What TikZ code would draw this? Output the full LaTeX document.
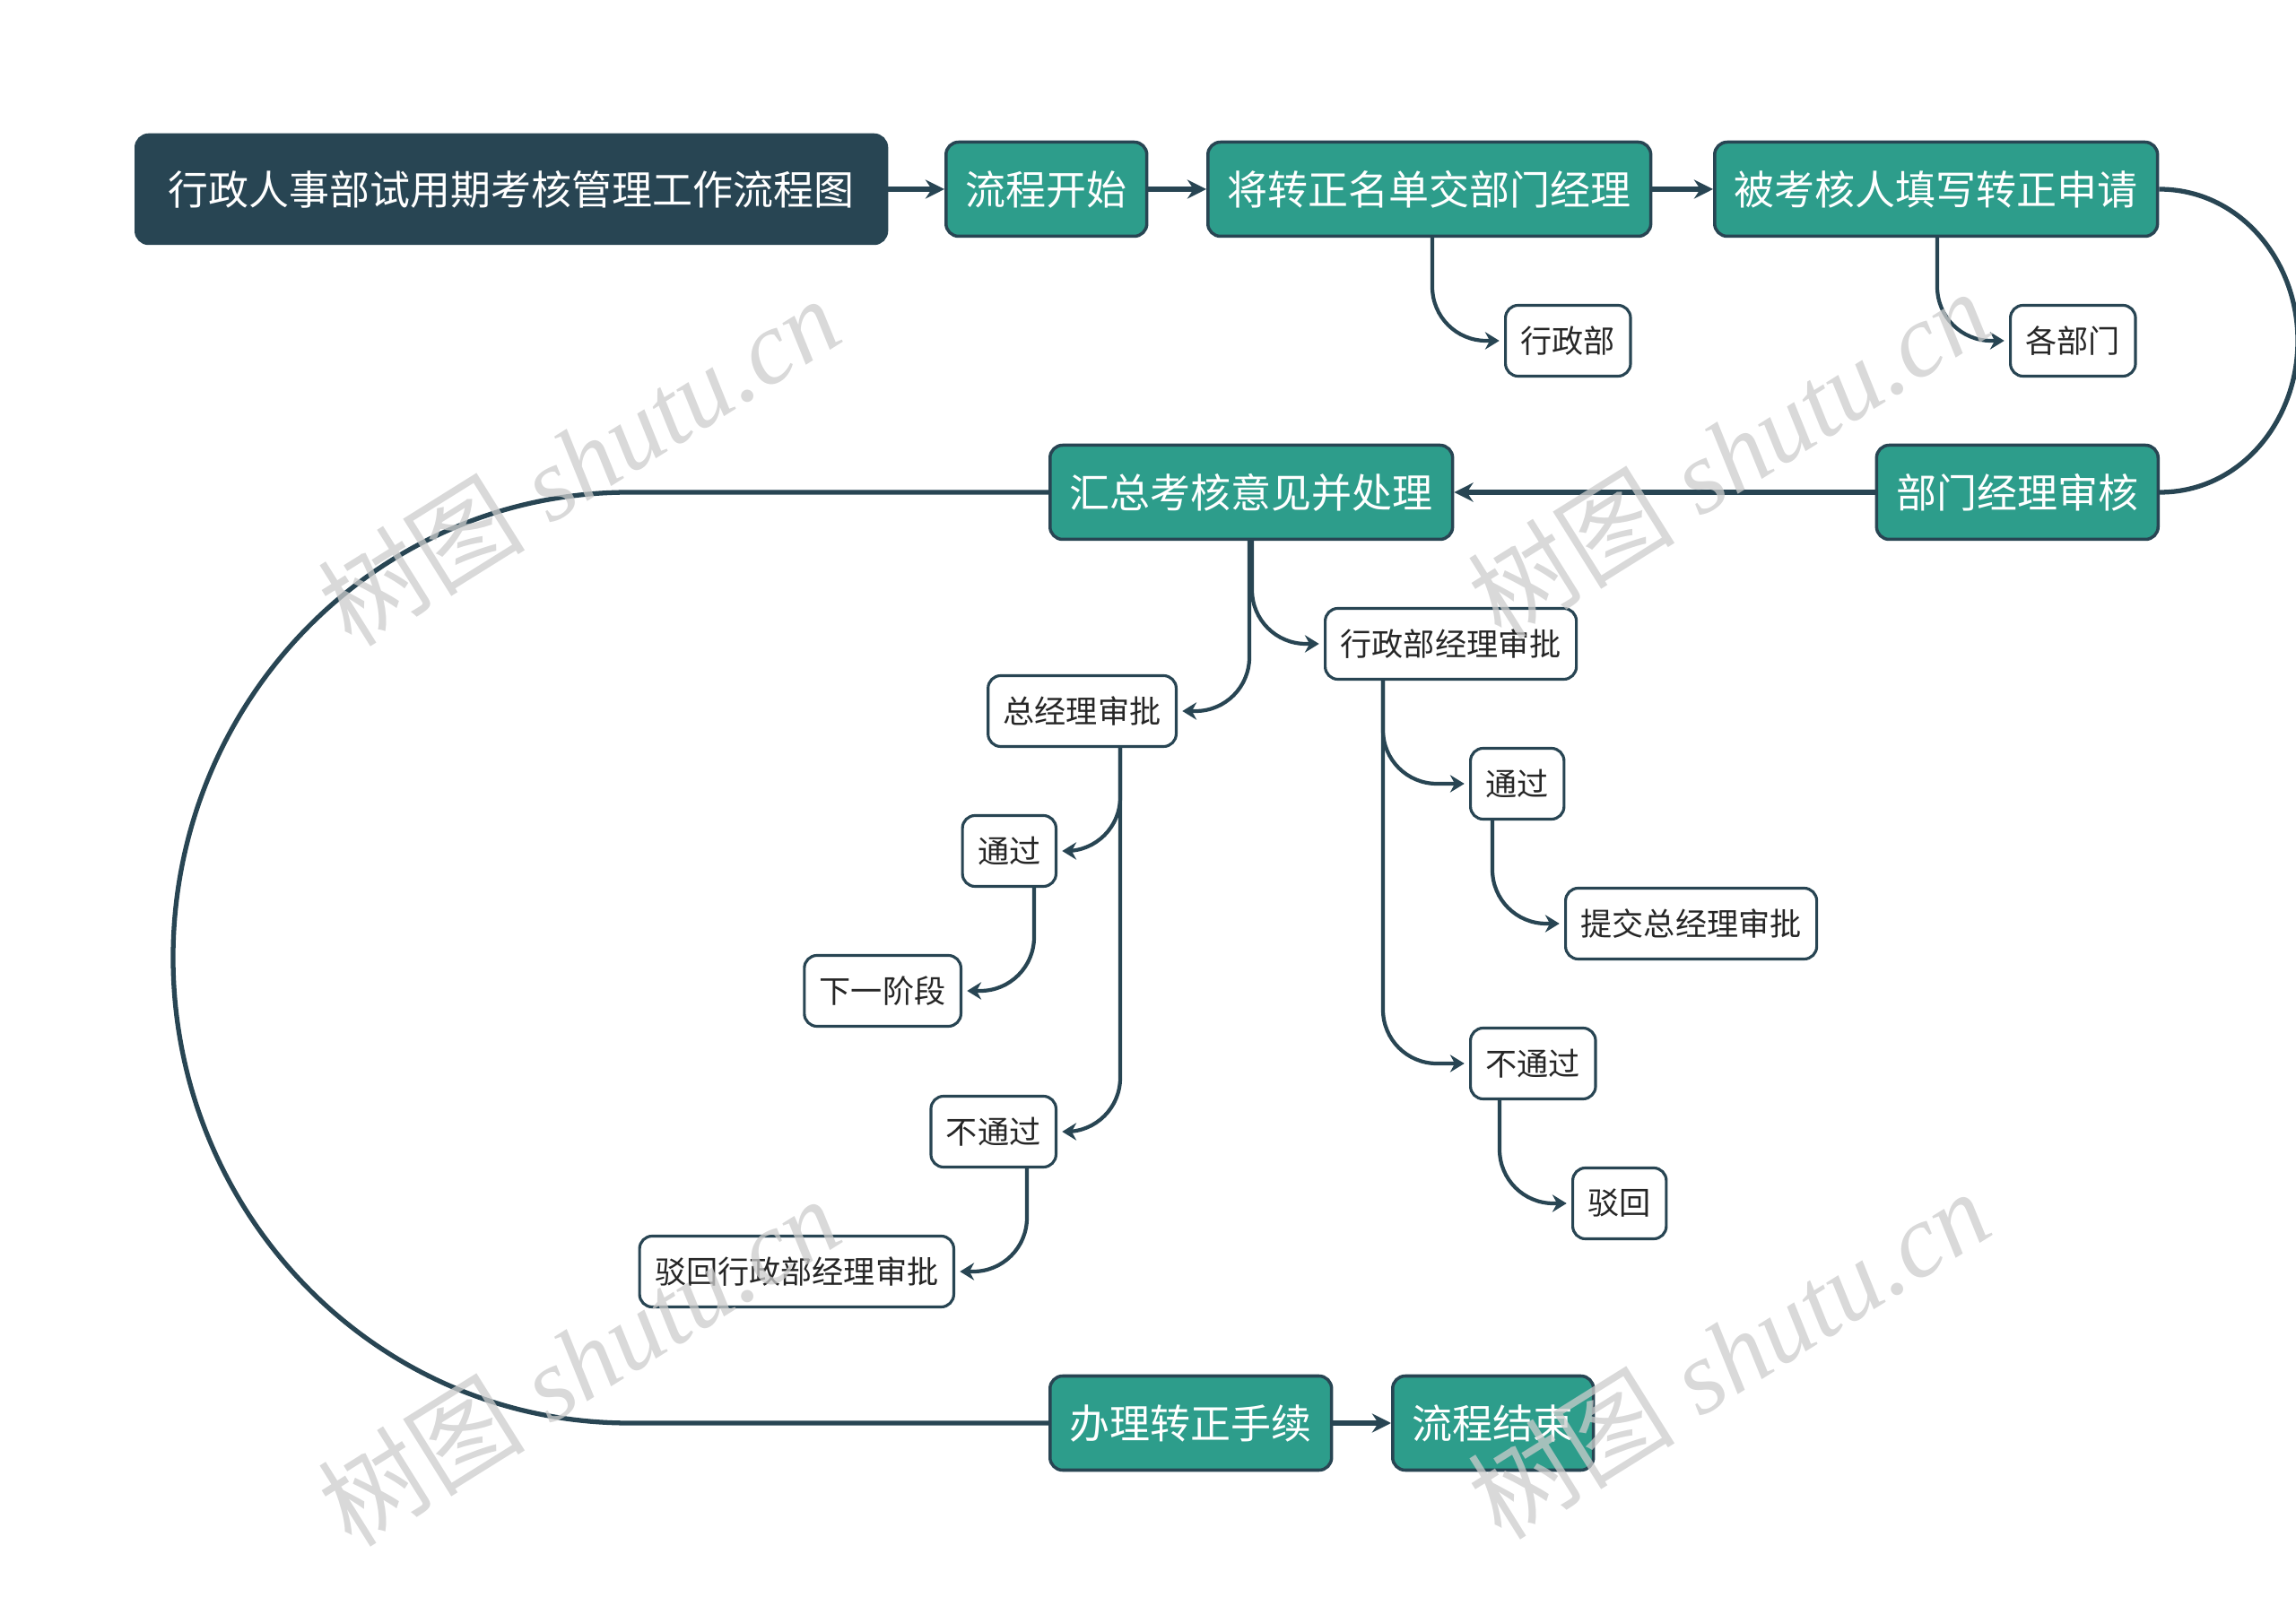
\documentclass[tikz,border=0pt]{standalone}
\usepackage{fontspec}
\setmainfont{Liberation Serif}
\newfontfamily\cjk{Noto Sans CJK SC}
\usepackage{xcolor}
\usetikzlibrary{arrows.meta,calc}

\definecolor{slate}{HTML}{284553}
\definecolor{mint}{HTML}{2D9D8B}

\begin{document}
\begin{tikzpicture}[
        title/.style={draw=slate, fill=slate, text=white, rounded corners=4pt, line width=1pt,
            inner xsep=0.36cm, minimum height=1.21cm, font=\cjk\fontsize{12.8}{14}\selectfont},
        stage/.style={draw=slate, fill=mint, text=white, rounded corners=4pt, line width=1pt,
            inner xsep=0.22cm, minimum height=1.05cm, font=\cjk\fontsize{12.8}{14}\selectfont},
        leaf/.style={draw=slate, fill=white, text=black!85, rounded corners=4pt, line width=0.9pt,
            inner xsep=0.17cm, minimum height=0.79cm, font=\cjk\fontsize{10}{12}\selectfont},
        trunk/.style={draw=slate, line width=1.5pt},
        flow/.style={trunk, -{Stealth[length=6pt,width=6pt]}},
        link/.style={draw=slate, line width=1.2pt, rounded corners=6mm, shorten >=1.5pt,
            -{Stealth[length=4.5pt,width=5.5pt]}},
        wmark/.style={text=gray!40, text opacity=0.75, rotate=32, font=\fontsize{33}{33}\selectfont\itshape}
    ]
        \useasboundingbox (0,0) rectangle (25.6,-17.91);

        % Top row --  --  --  --  --  --  --  --  --  --  --  --  --  --  --
        \node[title, anchor=west] (title) at (1.50,-2.11) {行政人事部试用期考核管理工作流程图};
        \node[stage, anchor=west] (kaishi) at (10.53,-2.11) {流程开始};
        \node[stage, anchor=west] (mingdan) at (13.45,-2.11) {将转正名单交部门经理};
        \node[stage, anchor=west] (shenqing) at (19.10,-2.11) {被考核人填写转正申请};

        \node[leaf, anchor=west] (xzb) at (16.77,-3.80) {行政部};
        \node[leaf, anchor=west] (gbm) at (22.40,-3.80) {各部门};

        \draw[flow] (title.east) -- (kaishi.west);
        \draw[flow] (kaishi.east) -- (mingdan.west);
        \draw[flow] (mingdan.east) -- (shenqing.west);

        \draw[link] ($(mingdan.south -| xzb.west)+(-0.8,0)$) |- (xzb.west);
        \draw[link] ($(shenqing.south -| gbm.west)+(-0.8,0)$) |- (gbm.west);
        %  --  --  --  --  --  --  --  --  --  --  --  --  --  --  --  --

        % Second row  --  --  --  --  --  --  --  --  --  --  --  --  --  --
        \node[stage, anchor=east] (jlsh) at (24.08,-5.49) {部门经理审核};
        \node[stage, anchor=west] (huizong) at (11.69,-5.49) {汇总考核意见并处理};

        % bend on the right edge
        \coordinate (rbend) at (25.62,-3.80);
        \draw[trunk] (shenqing.east) to[out=0, in=90] (rbend)
            to[out=-90, in=0] (jlsh.east);
        \draw[flow] (jlsh.west) -- (huizong.east);
        %  --  --  --  --  --  --  --  --  --  --  --  --  --  --  --  --

        % Approvals --  --  --  --  --  --  --  --  --  --  --  --  --  --
        \node[leaf, anchor=west] (xzsp) at (14.76,-7.18) {行政部经理审批};
        \node[leaf, anchor=east] (zsp) at (13.13,-7.93) {总经理审批};

        % general manager side
        \node[leaf, anchor=east] (tg1) at (11.79,-9.49) {通过};
        \node[leaf, anchor=east] (xyjd) at (10.73,-11.05) {下一阶段};
        \node[leaf, anchor=east] (btg1) at (11.79,-12.62) {不通过};
        \node[leaf, anchor=east] (bh1) at (10.65,-14.18) {驳回行政部经理审批};

        % admin manager side
        \node[leaf, anchor=west] (tg2) at (16.38,-8.74) {通过};
        \node[leaf, anchor=west] (tj) at (17.44,-10.30) {提交总经理审批};
        \node[leaf, anchor=west] (btg2) at (16.38,-11.86) {不通过};
        \node[leaf, anchor=west] (bh2) at (17.52,-13.42) {驳回};

        \draw[link] ($(huizong.south -| xzsp.west)+(-0.8,0)$) |- (xzsp.west);
        \draw[link] ($(huizong.south -| zsp.east)+(0.8,0)$) |- (zsp.east);

        \draw[link] ($(zsp.south -| tg1.east)+(0.7,0)$) |- (tg1.east);
        \draw[link] ($(zsp.south -| btg1.east)+(0.7,0)$) |- (btg1.east);
        \draw[link] ($(tg1.south -| xyjd.east)+(0.8,0)$) |- (xyjd.east);
        \draw[link] ($(btg1.south -| bh1.east)+(0.8,0)$) |- (bh1.east);

        \draw[link] ($(xzsp.south -| tg2.west)+(-0.96,0)$) |- (tg2.west);
        \draw[link] ($(xzsp.south -| btg2.west)+(-0.96,0)$) |- (btg2.west);
        \draw[link] ($(tg2.south -| tj.west)+(-0.8,0)$) |- (tj.west);
        \draw[link] ($(btg2.south -| bh2.west)+(-0.8,0)$) |- (bh2.west);
        %  --  --  --  --  --  --  --  --  --  --  --  --  --  --  --  --

        % Bottom row  --  --  --  --  --  --  --  --  --  --  --  --  --  --
        \node[stage, anchor=west] (banli) at (11.69,-15.87) {办理转正手续};
        \node[stage, anchor=west] (jieshu) at (15.51,-15.87) {流程结束};

        % big loop on the left
        \coordinate (ltop) at (7.02,-5.49);
        \coordinate (lbend) at (1.93,-10.68);
        \coordinate (lbot) at (7.02,-15.87);
        \draw[trunk] (huizong.west) -- (ltop) to[out=180, in=90] (lbend)
            to[out=-90, in=180] (lbot) -- (banli.west);
        \draw[flow] (banli.east) -- (jieshu.west);
        %  --  --  --  --  --  --  --  --  --  --  --  --  --  --  --  --

        % Watermarks
        \node[wmark] (wm1) at (6.45,-5.14) {{\cjk 树图} shutu.cn};
        \node[wmark] (wm2) at (19.27,-5.06) {{\cjk 树图} shutu.cn};
        \node[wmark] (wm3) at (6.45,-15.18) {{\cjk 树图} shutu.cn};
        \node[wmark] (wm4) at (19.27,-15.10) {{\cjk 树图} shutu.cn};
    \end{tikzpicture}
\end{document}
